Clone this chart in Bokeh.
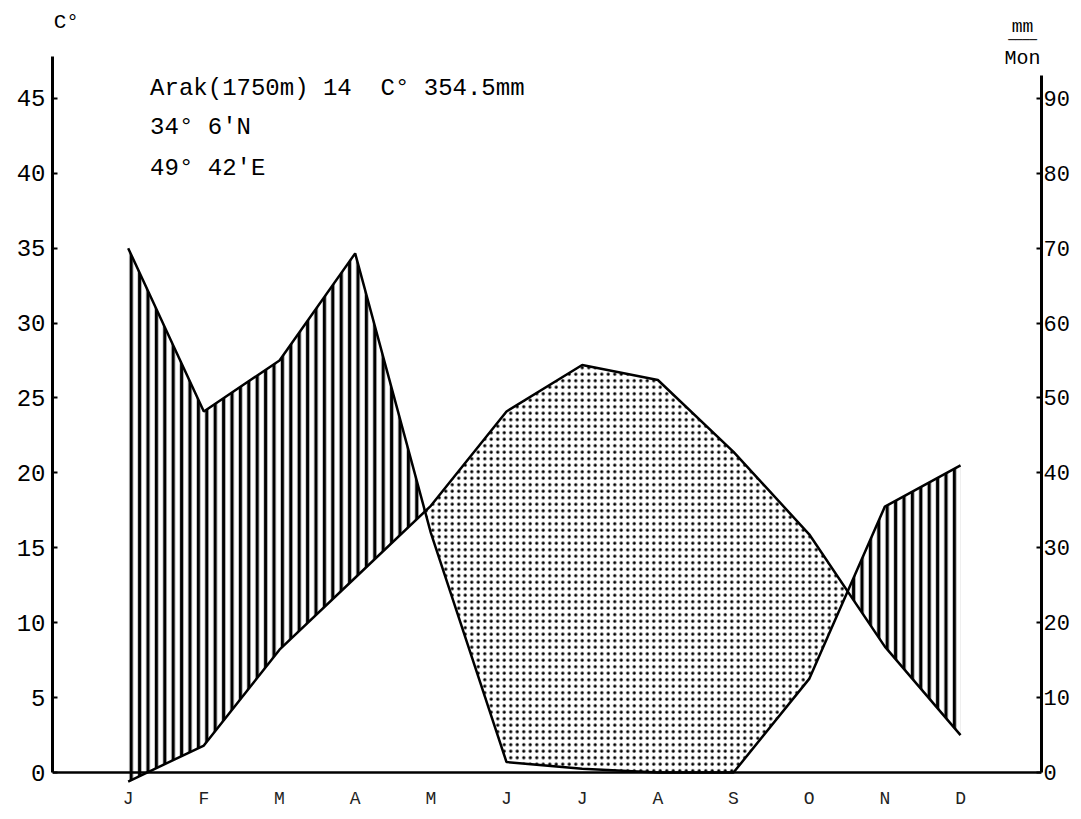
from bokeh.plotting import figure
from bokeh.models import Range1d, LinearAxis, FixedTicker, Span, Label, CustomJSTickFormatter
from bokeh.embed import file_html
from bokeh.resources import INLINE

# ---- data ----
months = ["J", "F", "M", "A", "M", "J", "J", "A", "S", "O", "N", "D"]
month_pos = [1, 2, 3, 4, 5, 6, 7, 8, 9, 10, 11, 12]
temp_c = [-0.6, 1.8, 8.2, 13.0, 17.8, 24.1, 27.2, 26.2, 21.4, 15.9, 8.4, 2.5]
precip_mm = [70, 48.2, 55, 69.3, 32, 1.4, 0.5, 0, 0, 12.5, 35.5, 41]
temp_ticks = [0, 5, 10, 15, 20, 25, 30, 35, 40, 45]
precip_ticks = [0, 10, 20, 30, 40, 50, 60, 70, 80, 90]
header_lines = ["Arak(1750m) 14\u00a0\u00a0C\u00b0\u00a0354.5mm", "34\u00b0 6'N", "49\u00b0 42'E"]

MONO = "Liberation Mono"

# ---- figure ----
p = figure(width=1072, height=811, output_backend="svg", toolbar_location=None,
           x_range=Range1d(0, 13.07), y_range=Range1d(-1, 51.53),
           min_border_left=52, min_border_right=29, min_border_top=0, min_border_bottom=20)
p.outline_line_color = None
p.xgrid.visible = False
p.ygrid.visible = False
p.background_fill_color = "white"
p.border_fill_color = "white"

p.extra_y_ranges = {"mm": Range1d(-2, 103.06)}

# ---- fills between curves (precip scaled 2 mm = 1 degC) ----
ph = [v / 2.0 for v in precip_mm]
xs, ts, ps = [], [], []
for i in range(len(month_pos)):
    xs.append(month_pos[i]); ts.append(temp_c[i]); ps.append(ph[i])
    if i < len(month_pos) - 1:
        d0 = ph[i] - temp_c[i]
        d1 = ph[i + 1] - temp_c[i + 1]
        if d0 * d1 < 0:
            t = d0 / (d0 - d1)
            xc = month_pos[i] + t * (month_pos[i + 1] - month_pos[i])
            yc = temp_c[i] + t * (temp_c[i + 1] - temp_c[i])
            xs.append(xc); ts.append(yc); ps.append(yc)
upper = [max(a, b) for a, b in zip(ts, ps)]

# humid (vertical hatching): precipitation above temperature
p.varea(x=xs, y1=ts, y2=upper, fill_color=None, fill_alpha=0,
        hatch_pattern="vertical_line", hatch_color="black",
        hatch_scale=8.4, hatch_weight=3.3)
# arid (dots): temperature above precipitation
p.varea(x=xs, y1=ps, y2=upper, fill_color=None, fill_alpha=0,
        hatch_pattern="dot", hatch_color="black",
        hatch_scale=6.5, hatch_weight=3.0)

# ---- curves ----
p.line(month_pos, temp_c, line_color="black", line_width=2.5)
p.line(month_pos, precip_mm, line_color="black", line_width=2.5, y_range_name="mm")

# x axis baseline at 0
p.add_layout(Span(location=0, dimension="width", line_color="black", line_width=2.5))

# ---- axes ----
xa = p.xaxis[0]
xa.ticker = FixedTicker(ticks=month_pos)
xa.formatter = CustomJSTickFormatter(args=dict(labels=months), code="return labels[Math.round(tick) - 1];")
xa.axis_line_color = None
xa.major_tick_line_color = None
xa.major_tick_in = 0
xa.major_tick_out = 0
xa.minor_tick_line_color = None
xa.minor_tick_in = 0
xa.minor_tick_out = 0
xa.major_label_text_font = MONO
xa.major_label_text_font_size = "18px"
xa.major_label_text_color = "#222222"
xa.major_label_standoff = 1

ya = p.yaxis[0]
ya.ticker = FixedTicker(ticks=temp_ticks)
ya.bounds = (0, 47.8)
ya.axis_line_width = 3
ya.major_tick_in = 5
ya.major_tick_out = 0
ya.major_tick_line_width = 2
ya.minor_tick_line_color = None
ya.major_label_text_font = MONO
ya.major_label_text_font_size = "24px"
ya.major_label_text_color = "black"
ya.major_label_standoff = 7

ra = LinearAxis(y_range_name="mm", ticker=FixedTicker(ticks=precip_ticks))
ra.bounds = (0, 93)
ra.axis_line_width = 3
ra.major_tick_in = 5
ra.major_tick_out = 0
ra.major_tick_line_width = 2
ra.minor_tick_line_color = None
ra.major_label_text_font = MONO
ra.major_label_text_font_size = "22px"
ra.major_label_text_color = "black"
ra.major_label_standoff = 2
p.add_layout(ra, "right")

# ---- texts ----
for txt, yy in zip(header_lines, [45.67, 43.07, 40.33]):
    p.add_layout(Label(x=1.29, y=yy, text=txt, text_font=MONO, text_font_size="24px",
                       text_baseline="middle", text_align="left", text_color="black"))

p.add_layout(Label(x=0.015, y=50.07, text="C\u00b0", text_font=MONO, text_font_size="21px",
                   text_baseline="middle", text_align="left", text_color="black"))
p.add_layout(Label(x=12.82, y=49.73, text="mm", text_font=MONO, text_font_size="18px",
                   text_baseline="middle", text_align="center", text_color="black"))
p.add_layout(Label(x=12.82, y=48.87, text="\u2500\u2500\u2500\u2500", text_font="DejaVu Sans Mono",
                   text_font_size="12px", text_baseline="middle", text_align="center",
                   text_color="black"))
p.add_layout(Label(x=12.82, y=47.67, text="Mon", text_font=MONO, text_font_size="20px",
                   text_baseline="middle", text_align="center", text_color="black"))

open("out.html", "w").write(file_html(p, INLINE))
